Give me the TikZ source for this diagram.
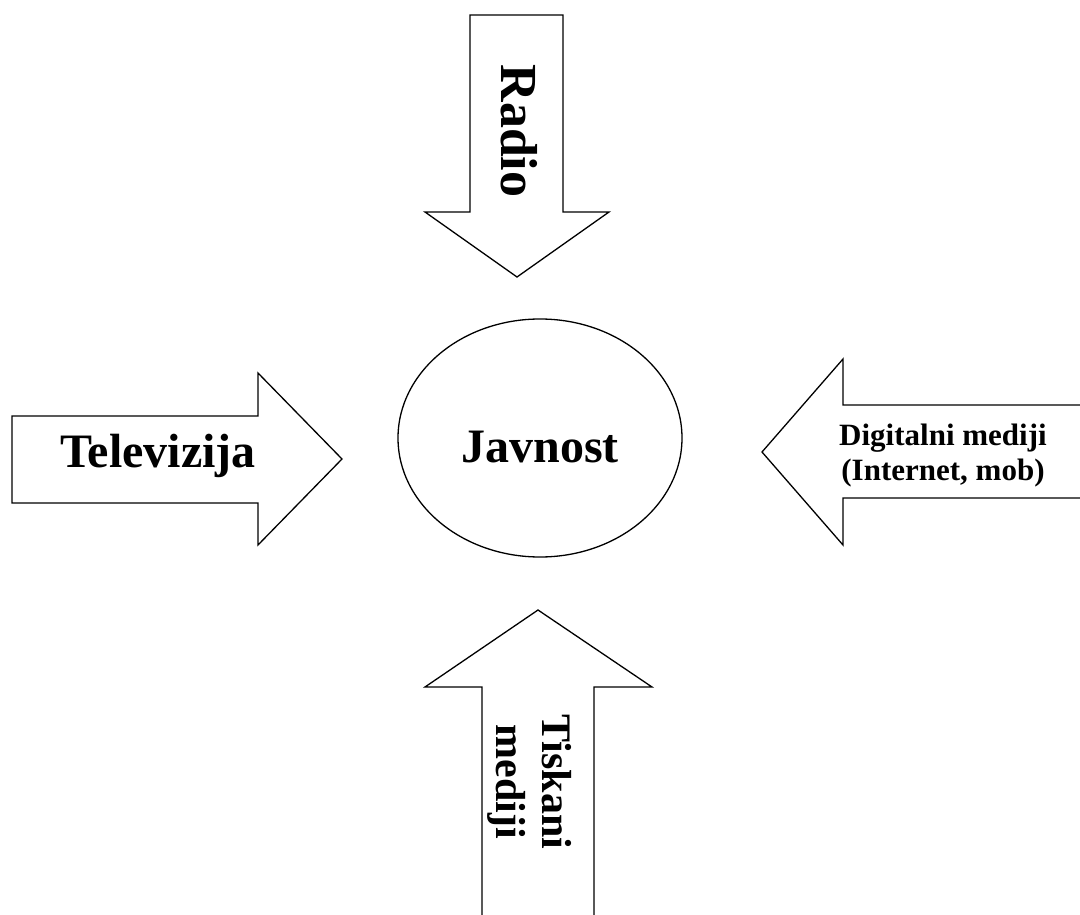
\documentclass[tikz,border=0pt]{standalone}
\usepackage{fontspec}
\setmainfont{Liberation Serif}
\usetikzlibrary{shapes.geometric}

\begin{document}
\begin{tikzpicture}[x=1pt,y=-1pt,
  strelica/.style={draw=black, line width=1.3pt, line join=miter, fill=white},
  naslov/.style={font=\bfseries, inner sep=0pt, align=center}]

\useasboundingbox (0,0) rectangle (1080,915);
\clip (0,0) rectangle (1080,915);

\coordinate (R1) at (470,15);
\coordinate (R2) at (563,15);
\coordinate (R3) at (563,212);
\coordinate (R4) at (609,212);
\coordinate (R5) at (517,277);
\coordinate (R6) at (425,212);
\coordinate (R7) at (470,212);

\coordinate (T1) at (12,416);
\coordinate (T2) at (258,416);
\coordinate (T3) at (258,373);
\coordinate (T4) at (342,459);
\coordinate (T5) at (258,545);
\coordinate (T6) at (258,503);
\coordinate (T7) at (12,503);

\coordinate (D1) at (1100,405);
\coordinate (D2) at (843,405);
\coordinate (D3) at (843,359);
\coordinate (D4) at (762,452);
\coordinate (D5) at (843,545);
\coordinate (D6) at (843,498);
\coordinate (D7) at (1100,498);

\coordinate (K1) at (538,610);
\coordinate (K2) at (652,687);
\coordinate (K3) at (594,687);
\coordinate (K4) at (594,940);
\coordinate (K5) at (482,940);
\coordinate (K6) at (482,687);
\coordinate (K7) at (425,687);


\draw [strelica] (R1)--(R2)--(R3)--(R4)--(R5)--(R6)--(R7)--cycle;
\draw [strelica] (T1)--(T2)--(T3)--(T4)--(T5)--(T6)--(T7)--cycle;
\draw [strelica] (D1)--(D2)--(D3)--(D4)--(D5)--(D6)--(D7)--cycle;
\draw [strelica] (K1)--(K2)--(K3)--(K4)--(K5)--(K6)--(K7)--cycle;

\node [draw, ellipse, line width=1.3pt, minimum width=284pt, minimum height=238pt, inner sep=0pt] (javnost) at (540,438) {};


\node [naslov, anchor=base, font=\bfseries\fontsize{48}{56}\selectfont] (javnosttxt) at (540,462) {Javnost};
\node [naslov, anchor=base, font=\bfseries\fontsize{48}{56}\selectfont] (televizija) at (158,467) {Televizija};
\node [naslov, anchor=base, rotate=-90, font=\bfseries\fontsize{52}{60}\selectfont] (radio) at (501,131) {Radio};
\node [naslov, rotate=-90, font=\bfseries\fontsize{42}{46}\selectfont] (tiskani) at (530,782) {Tiskani\\mediji};
\node [naslov, font=\bfseries\fontsize{31}{35}\selectfont] (digitalni) at (943,456) {Digitalni mediji\\(Internet, mob)};


\end{tikzpicture}
\end{document}
